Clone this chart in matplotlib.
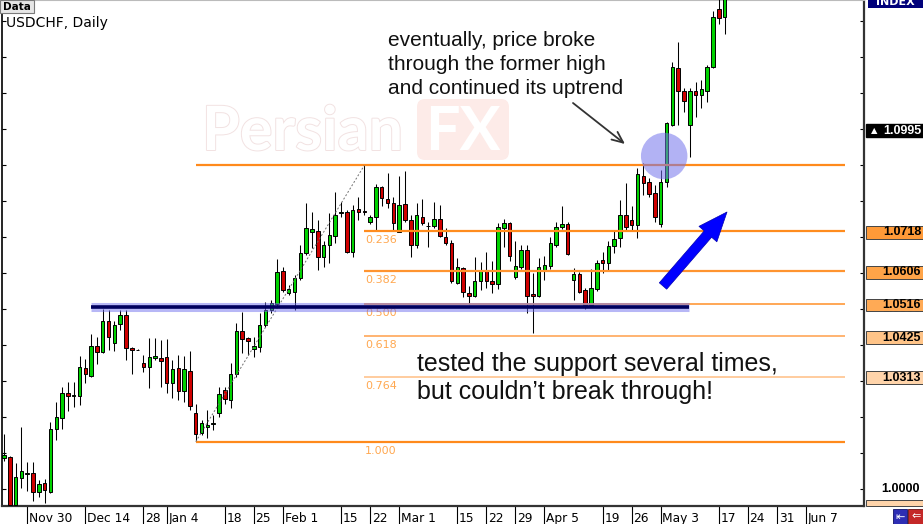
import matplotlib
matplotlib.use('Agg')
import matplotlib.pyplot as plt
import matplotlib.patheffects as pe
import matplotlib.transforms as mtransforms
from matplotlib.patches import Rectangle, FancyBboxPatch
import numpy as np

# daily USDCHF candles, 24 Nov 2009 .. 18 May 2010 (one entry per trading day)
opens = [1.0088, 1.0091, 0.9957, 1.0032, 1.0043, 1.0045, 0.9994, 1.0017, 0.9994, 1.0167,
         1.0199, 1.0267, 1.0259, 1.0258, 1.0338, 1.0315, 1.0399, 1.0381, 1.0468, 1.0406,
         1.0458, 1.0484, 1.0393, 1.0388, 1.0352, 1.0341, 1.0364, 1.0364, 1.0367, 1.0295,
         1.0336, 1.0274, 1.0330, 1.0213, 1.0158, 1.0174, 1.0182, 1.0212, 1.0276, 1.0248,
         1.0320, 1.0440, 1.0420, 1.0389, 1.0396, 1.0456, 1.0498, 1.0515, 1.0606, 1.0546,
         1.0549, 1.0586, 1.0655, 1.0713, 1.0718, 1.0646, 1.0678, 1.0703, 1.0766, 1.0771,
         1.0660, 1.0777, 1.0771, 1.0741, 1.0757, 1.0838, 1.0806, 1.0794, 1.0715, 1.0791,
         1.0748, 1.0678, 1.0757, 1.0732, 1.0732, 1.0751, 1.0700, 1.0683, 1.0574, 1.0614,
         1.0546, 1.0537, 1.0577, 1.0609, 1.0579, 1.0570, 1.0725, 1.0739, 1.0589, 1.0617,
         1.0665, 1.0542, 1.0537, 1.0609, 1.0620, 1.0678, 1.0727, 1.0737, 1.0581, 1.0598,
         1.0554, 1.0512, 1.0556, 1.0637, 1.0628, 1.0676, 1.0697, 1.0762, 1.0748, 1.0734,
         1.0870, 1.0854, 1.0823, 1.0737, 1.0854, 1.1011, 1.1170, 1.1106, 1.1011, 1.1106,
         1.1094, 1.1106, 1.1173, 1.1332, 1.1310]
highs = [1.0154, 1.0094, 1.0074, 1.0174, 1.0075, 1.0075, 1.0026, 1.0028, 1.0188, 1.0243,
         1.0284, 1.0299, 1.0299, 1.0369, 1.0361, 1.0431, 1.0424, 1.0500, 1.0498, 1.0466,
         1.0498, 1.0498, 1.0396, 1.0389, 1.0373, 1.0420, 1.0420, 1.0415, 1.0417, 1.0359,
         1.0373, 1.0369, 1.0385, 1.0237, 1.0193, 1.0221, 1.0207, 1.0285, 1.0285, 1.0350,
         1.0463, 1.0493, 1.0424, 1.0422, 1.0489, 1.0521, 1.0526, 1.0640, 1.0618, 1.0567,
         1.0595, 1.0678, 1.0794, 1.0771, 1.0748, 1.0688, 1.0766, 1.0826, 1.0798, 1.0775,
         1.0789, 1.0812, 1.0899, 1.0762, 1.0847, 1.0841, 1.0877, 1.0810, 1.0870, 1.0884,
         1.0762, 1.0794, 1.0805, 1.0743, 1.0798, 1.0789, 1.0725, 1.0692, 1.0641, 1.0618,
         1.0565, 1.0644, 1.0632, 1.0660, 1.0635, 1.0739, 1.0750, 1.0743, 1.0688, 1.0678,
         1.0678, 1.0600, 1.0641, 1.0648, 1.0701, 1.0743, 1.0785, 1.0743, 1.0614, 1.0602,
         1.0558, 1.0611, 1.0637, 1.0660, 1.0688, 1.0720, 1.0803, 1.0850, 1.0785, 1.0891,
         1.0905, 1.0863, 1.0845, 1.0886, 1.1020, 1.1187, 1.1242, 1.1113, 1.1113, 1.1131,
         1.1136, 1.1178, 1.1326, 1.1365, 1.1395]
lows = [1.0079, 0.9954, 0.9954, 1.0004, 0.9996, 0.9969, 0.9980, 0.9962, 0.9990, 1.0137,
        1.0167, 1.0219, 1.0230, 1.0235, 1.0295, 1.0311, 1.0348, 1.0378, 1.0387, 1.0385,
        1.0443, 1.0359, 1.0321, 1.0386, 1.0327, 1.0281, 1.0359, 1.0285, 1.0267, 1.0253,
        1.0248, 1.0243, 1.0221, 1.0132, 1.0151, 1.0142, 1.0165, 1.0202, 1.0237, 1.0225,
        1.0313, 1.0378, 1.0373, 1.0367, 1.0382, 1.0452, 1.0490, 1.0507, 1.0549, 1.0540,
        1.0498, 1.0581, 1.0651, 1.0669, 1.0609, 1.0618, 1.0628, 1.0683, 1.0757, 1.0655,
        1.0646, 1.0748, 1.0762, 1.0737, 1.0720, 1.0785, 1.0780, 1.0720, 1.0713, 1.0743,
        1.0646, 1.0669, 1.0734, 1.0672, 1.0725, 1.0700, 1.0678, 1.0574, 1.0570, 1.0535,
        1.0514, 1.0533, 1.0554, 1.0558, 1.0546, 1.0555, 1.0672, 1.0635, 1.0583, 1.0611,
        1.0489, 1.0433, 1.0533, 1.0581, 1.0611, 1.0674, 1.0722, 1.0651, 1.0526, 1.0544,
        1.0500, 1.0509, 1.0551, 1.0600, 1.0609, 1.0655, 1.0674, 1.0720, 1.0720, 1.0697,
        1.0817, 1.0812, 1.0743, 1.0729, 1.0840, 1.1008, 1.1011, 1.1048, 1.0923, 1.1034,
        1.1058, 1.1076, 1.1169, 1.1291, 1.1264]
closes = [1.0096, 0.9957, 1.0035, 1.0051, 1.0046, 0.9994, 1.0015, 0.9999, 1.0168, 1.0200,
          1.0267, 1.0259, 1.0262, 1.0339, 1.0320, 1.0399, 1.0382, 1.0468, 1.0424, 1.0456,
          1.0484, 1.0392, 1.0387, 1.0387, 1.0339, 1.0367, 1.0370, 1.0357, 1.0295, 1.0334,
          1.0274, 1.0334, 1.0232, 1.0154, 1.0184, 1.0179, 1.0185, 1.0264, 1.0250, 1.0320,
          1.0441, 1.0418, 1.0412, 1.0398, 1.0456, 1.0498, 1.0518, 1.0603, 1.0554, 1.0556,
          1.0586, 1.0655, 1.0725, 1.0722, 1.0644, 1.0678, 1.0706, 1.0762, 1.0771, 1.0660,
          1.0775, 1.0769, 1.0770, 1.0757, 1.0840, 1.0808, 1.0794, 1.0739, 1.0789, 1.0748,
          1.0678, 1.0762, 1.0739, 1.0731, 1.0751, 1.0703, 1.0683, 1.0579, 1.0617, 1.0547,
          1.0538, 1.0577, 1.0609, 1.0577, 1.0570, 1.0729, 1.0739, 1.0648, 1.0620, 1.0665,
          1.0537, 1.0538, 1.0617, 1.0623, 1.0683, 1.0729, 1.0736, 1.0653, 1.0597, 1.0549,
          1.0512, 1.0558, 1.0628, 1.0628, 1.0676, 1.0694, 1.0762, 1.0727, 1.0734, 1.0875,
          1.0850, 1.0820, 1.0757, 1.0854, 1.1016, 1.1173, 1.1106, 1.1079, 1.1104, 1.1094,
          1.1110, 1.1171, 1.1310, 1.1307, 1.1375]

# week separators on the time axis (candle index, label)
date_idx = [4, 14, 24, 28, 38, 43, 48, 58, 63, 68, 78, 83, 88, 93, 103, 108, 113, 123, 128, 133, 138]
date_lbl = ['Nov 30', 'Dec 14', '28', 'Jan 4', '18', '25', 'Feb 1', '15', '22', 'Mar 1',
            '15', '22', '29', 'Apr 5', '19', '26', 'May 3', '17', '24', '31', 'Jun 7']

# fibonacci retracement drawn from the January low to the February high
fib_low_idx, fib_high_idx, fib_end_idx = 33, 62, 144.7
fib_high, fib_low = 1.0899, 1.01325
fib_ratios = [0.0, 0.236, 0.382, 0.5, 0.618, 0.764, 1.0]
fib_line_colors = ['#FF8A1C', '#FF8C1E', '#FF9430', '#FFA048', '#FFAE66', '#FFC896', '#FF8A1C']
fib_box_colors = [None, '#FF9A38', '#FFA448', '#FFAA55', '#FFC488', '#FFD4AA', None]

support_price, support_from, support_to = 1.0505, 14.9, 117.9
bid_price = 1.0995
y_lo, y_hi = 0.99542, 1.13578

W, H = 923, 524
fig = plt.figure(figsize=(W / 100, H / 100), dpi=100)
ax = fig.add_axes([2 / W, 18 / H, 862 / W, 506 / H])
# pixel transform for the terminal decorations (origin top-left)
pxt = mtransforms.Affine2D().scale(1 / 100, -1 / 100).translate(0, H / 100) + fig.dpi_scale_trans

o, h, l, c = map(np.asarray, (opens, highs, lows, closes))
idx = np.arange(len(o))
up = c >= o

# watermark behind everything
ax.text(202, 150, 'Persian', transform=pxt, fontsize=44, fontweight='bold', family='Lato',
        color='white', va='baseline', zorder=0.2,
        path_effects=[pe.withStroke(linewidth=1.4, foreground='#F2E2E2')])
ax.add_patch(FancyBboxPatch((417, 99), 92, 61, boxstyle='round,pad=0,rounding_size=8',
                            transform=pxt, fc='#FDEBE8', ec='none', zorder=0.2, clip_on=False))
ax.text(463, 150, 'FX', transform=pxt, fontsize=44, fontweight='bold', family='Lato',
        color='white', ha='center', va='baseline', zorder=0.3)

# candles
ax.vlines(idx, l, h, color='black', lw=0.75, zorder=3)
ax.bar(idx, np.maximum(np.abs(c - o), 0.00012), bottom=np.minimum(o, c), width=0.6,
       color=np.where(up, '#00D200', '#D00000'), edgecolor='black', linewidth=0.7, zorder=4)

# fibonacci levels
fib_prices = [fib_high - r * (fib_high - fib_low) for r in fib_ratios]
for r, p, col in zip(fib_ratios, fib_prices, fib_line_colors):
    start = fib_low_idx if r in (0.0, 1.0) else fib_high_idx
    lw = 1.6 if r in (0.0, 0.236, 0.382, 1.0) else 1.3
    ax.hlines(p, start, fib_end_idx, color=col, lw=lw, zorder=5)
    if r > 0:
        ax.annotate(f'{r:.3f}', (fib_high_idx, p), xytext=(0.5, -3), textcoords='offset points',
                    ha='left', va='top', fontsize=8, color='#FFA850', zorder=5)
ax.plot([fib_low_idx, fib_high_idx], [fib_low, fib_high], color='#707070', lw=0.7,
        ls=(0, (2, 2)), zorder=5)

# support line
ax.hlines(support_price, support_from, support_to, color='#7070EE', lw=6.5, alpha=0.5, zorder=5)
ax.hlines(support_price, support_from, support_to, color='#00005E', lw=2.6, zorder=5)

# breakout highlight
ax.scatter([113.6], [1.0925], s=1120, color='#7474EC', alpha=0.55, edgecolors='none', zorder=6)

ax.set_xlim(-0.335, 147.98)
ax.set_ylim(y_lo, y_hi)
ax.set_yticks(np.arange(1.0, 1.135, 0.01))
ax.tick_params(axis='y', direction='in', left=True, right=True, length=3, width=0.8,
               labelleft=False, labelright=False)
ax.set_xticks(date_idx)
ax.tick_params(axis='x', direction='out', length=13, width=0.8, labelbottom=False)
for i, lab in zip(date_idx, date_lbl):
    ax.text(i + 0.3, -0.031, lab, transform=ax.get_xaxis_transform(), fontsize=8.8,
            family='DejaVu Sans', ha='left', va='baseline', clip_on=False)
for side, col, lw in [('left', 'black', 1.2), ('right', '#333333', 1.6),
                      ('bottom', '#333333', 1.6), ('top', '#BBBBBB', 0.8)]:
    ax.spines[side].set_color(col)
    ax.spines[side].set_linewidth(lw)

# price boxes on the right scale
trans = mtransforms.blended_transform_factory(fig.transFigure, ax.transData)
box_h = 0.0036
ax.text(921 / W, support_price - 0.0004, '1.0506', transform=trans, ha='right', va='center',
        fontsize=9, fontweight='bold', family='Liberation Sans', clip_on=False, zorder=6)
for p, col in zip(fib_prices, fib_box_colors):
    if col is None:
        continue
    ax.add_patch(Rectangle((866 / W, p - 0.0004 - box_h / 2), 60 / W, box_h, transform=trans,
                           fc=col, ec='#444444', lw=0.7, clip_on=False, zorder=7))
    ax.text(921 / W, p - 0.0004, f'{p:.4f}', transform=trans, ha='right', va='center',
            fontsize=9, fontweight='bold', family='Liberation Sans', clip_on=False, zorder=8)
ax.add_patch(Rectangle((866 / W, bid_price - box_h / 2), 60 / W, box_h, transform=trans,
                       fc='black', ec='black', clip_on=False, zorder=7))
ax.text(871 / W, bid_price, '\u25b2', transform=trans, ha='left', va='center', fontsize=6,
        color='white', clip_on=False, zorder=8)
ax.text(921 / W, bid_price, f'{bid_price:.4f}', transform=trans, ha='right', va='center',
        fontsize=9, fontweight='bold', family='Liberation Sans', color='white', clip_on=False, zorder=8)
ax.text(920 / W, 1.0, '1.0000', transform=trans, ha='right', va='center', fontsize=9,
        fontweight='bold', family='Liberation Sans', clip_on=False, zorder=8)
ax.add_patch(Rectangle((866 / W, y_lo), 60 / W, 0.0017, transform=trans, fc='#FFD4AA',
                       ec='#444444', lw=0.7, clip_on=False, zorder=7))

# annotations
note1 = ['eventually, price broke', 'through the former high', 'and continued its uptrend']
for k, line in enumerate(note1):
    ax.text(388, 45.5 + 24.5 * k, line, transform=pxt, fontsize=15, family='Liberation Sans',
            color='#111111', va='baseline', zorder=9)
note2 = ['tested the support several times,', 'but couldn\u2019t break through!']
for k, line in enumerate(note2):
    ax.text(417, 371 + 28.3 * k, line, transform=pxt, fontsize=18, family='Liberation Sans',
            color='#111111', va='baseline', zorder=9)
ax.annotate('', xy=(625, 144), xytext=(573, 103), xycoords=pxt, textcoords=pxt,
            arrowprops=dict(arrowstyle='->,head_length=0.8,head_width=0.35', color='#333333',
                            lw=1.3, shrinkA=0, shrinkB=0), zorder=9)
ax.annotate('', xy=(727, 212), xytext=(663, 286), xycoords=pxt, textcoords=pxt,
            arrowprops=dict(arrowstyle='simple,head_length=2.1,head_width=1.7,tail_width=0.7',
                            mutation_scale=10, fc='#0000FF', ec='#0000B0', lw=0.5,
                            shrinkA=0, shrinkB=0), zorder=9)

# terminal chrome
ax.add_patch(Rectangle((0, 0), 34, 13, transform=pxt, fc='#E6E6E6', ec='#7A7A7A', lw=0.8,
                       clip_on=False, zorder=10))
ax.text(3, 7, 'Data', transform=pxt, fontsize=7.5, fontweight='bold', va='center', zorder=11)
ax.text(6, 23, 'USDCHF, Daily', transform=pxt, fontsize=10, family='DejaVu Sans',
        va='center', zorder=11)
ax.add_patch(Rectangle((868, 0), 55, 8, transform=pxt, fc='#00007A', ec='none',
                       clip_on=False, zorder=10))
ax.text(895, 2, 'INDEX', transform=pxt, fontsize=8, fontweight='bold', color='white',
        ha='center', va='center', zorder=11)
ax.add_patch(Rectangle((893, 509), 14, 15, transform=pxt, fc='#2E2EB4', ec='#111166', lw=0.6,
                       clip_on=False, zorder=10))
ax.add_patch(Rectangle((908, 509), 15, 15, transform=pxt, fc='#C42828', ec='#661111', lw=0.6,
                       clip_on=False, zorder=10))
ax.text(900, 516.5, '\u21e4', transform=pxt, fontsize=8, color='white', ha='center',
        va='center', zorder=11)
ax.text(916, 516.5, '\u21d0', transform=pxt, fontsize=8, color='white', ha='center',
        va='center', zorder=11)

fig.savefig('out.png', dpi=100)
